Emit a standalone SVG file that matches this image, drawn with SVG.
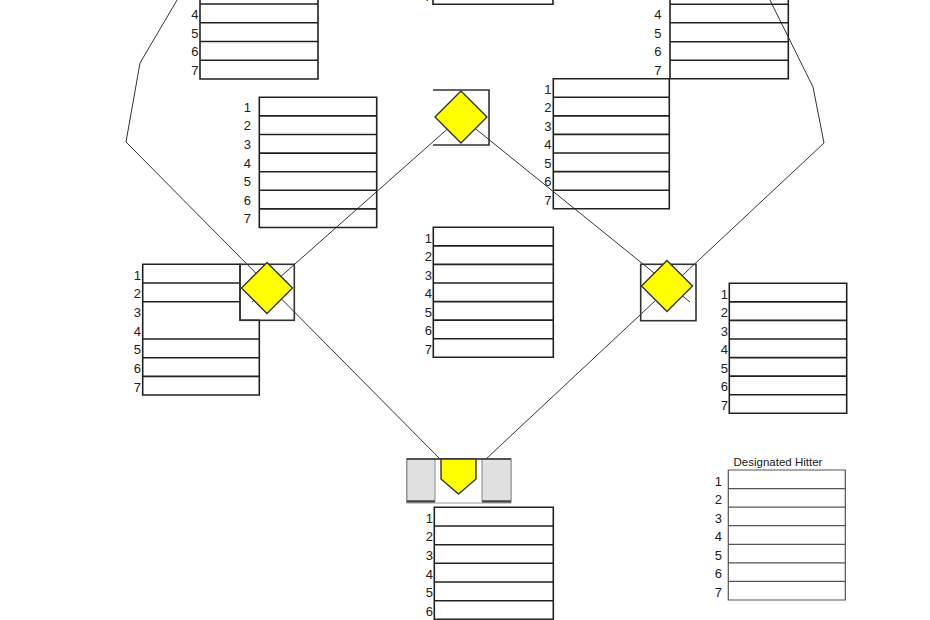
<svg xmlns="http://www.w3.org/2000/svg" width="930" height="620" viewBox="0 0 930 620">
<style>
.box{fill:none;stroke:#222;stroke-width:1.6}
.dh{fill:none;stroke:#555;stroke-width:1.2}
.conn{fill:none;stroke:#333;stroke-width:1}
.base{fill:none;stroke:#333;stroke-width:1.6}
.dia{fill:#ffff00;stroke:#333;stroke-width:1.4}
.lbl{font-family:"Liberation Sans",Arial,sans-serif;font-size:13px;fill:#222;text-anchor:end}
.ttl{font-family:"Liberation Sans",Arial,sans-serif;font-size:11.5px;fill:#222;text-anchor:middle}
</style>
<rect width="930" height="620" fill="#fff"/>
<g id="connectors">
<polyline class="conn" points="183,-10 140,63 126,142 440,459"/>
<polyline class="conn" points="765,-10 813,87 824,143 486,459"/>
<line class="conn" x1="461" y1="117" x2="252" y2="302"/>
<line class="conn" x1="461" y1="117" x2="690" y2="302"/>
</g>
<g id="lineup-lf">
<path class="box" d="M200,-52.25H318V79H200Z M200,-33.5H318 M200,-14.75H318 M200,4H318 M200,22.75H318 M200,41.5H318 M200,60.25H318"/>
<text class="lbl" x="198.5" y="0">3</text>
<text class="lbl" x="198.5" y="18.5">4</text>
<text class="lbl" x="198.5" y="37.5">5</text>
<text class="lbl" x="198.5" y="56">6</text>
<text class="lbl" x="198.5" y="75">7</text>
</g>
<g id="lineup-cf">
<path class="box" d="M433,-126H553V4.3H433Z M433,-14.3H553"/>
<text class="lbl" x="431.5" y="1">7</text>
</g>
<g id="lineup-rf">
<path class="box" d="M670,-51.5H788.3V78.7H670Z M670,-32.9H788.3 M670,-14.3H788.3 M670,4.3H788.3 M670,22.7H788.3 M670,41.7H788.3 M670,60.3H788.3"/>
<text class="lbl" x="661.5" y="0">3</text>
<text class="lbl" x="661.5" y="18.5">4</text>
<text class="lbl" x="661.5" y="37.5">5</text>
<text class="lbl" x="661.5" y="56">6</text>
<text class="lbl" x="661.5" y="75">7</text>
</g>
<g id="lineup-ss">
<path class="box" d="M259.3,97.3H376.7V227.5H259.3Z M259.3,115.9H376.7 M259.3,134.5H376.7 M259.3,153.1H376.7 M259.3,171.7H376.7 M259.3,190.3H376.7 M259.3,208.9H376.7"/>
<text class="lbl" x="251" y="111.7">1</text>
<text class="lbl" x="251" y="130.3">2</text>
<text class="lbl" x="251" y="148.9">3</text>
<text class="lbl" x="251" y="167.5">4</text>
<text class="lbl" x="251" y="186.1">5</text>
<text class="lbl" x="251" y="204.7">6</text>
<text class="lbl" x="251" y="223.3">7</text>
</g>
<g id="lineup-2b">
<path class="box" d="M553.3,78.7H669.3V208.7H553.3Z M553.3,97.3H669.3 M553.3,115.9H669.3 M553.3,134.4H669.3 M553.3,153H669.3 M553.3,171.6H669.3 M553.3,190.2H669.3"/>
<text class="lbl" x="551.5" y="93.5">1</text>
<text class="lbl" x="551.5" y="112">2</text>
<text class="lbl" x="551.5" y="130.6">3</text>
<text class="lbl" x="551.5" y="149.2">4</text>
<text class="lbl" x="551.5" y="167.8">5</text>
<text class="lbl" x="551.5" y="186.4">6</text>
<text class="lbl" x="551.5" y="205">7</text>
</g>
<g id="lineup-p">
<path class="box" d="M433.3,227.3H553.3V357.3H433.3Z M433.3,245.9H553.3 M433.3,264.4H553.3 M433.3,283H553.3 M433.3,301.6H553.3 M433.3,320.1H553.3 M433.3,338.7H553.3"/>
<text class="lbl" x="432" y="242.5">1</text>
<text class="lbl" x="432" y="261">2</text>
<text class="lbl" x="432" y="279.6">3</text>
<text class="lbl" x="432" y="298.2">4</text>
<text class="lbl" x="432" y="316.8">5</text>
<text class="lbl" x="432" y="335.4">6</text>
<text class="lbl" x="432" y="354">7</text>
</g>
<g id="lineup-3b">
<path class="box" d="M142.7,264.3H240V320.3H259.3V395H142.7Z M142.7,283H240 M142.7,301.7H240 M142.7,339H259.3 M142.7,357.7H259.3 M142.7,376.4H259.3"/>
<text class="lbl" x="141" y="279.5">1</text>
<text class="lbl" x="141" y="298.2">2</text>
<text class="lbl" x="141" y="316.9">3</text>
<text class="lbl" x="141" y="335.6">4</text>
<text class="lbl" x="141" y="354.3">5</text>
<text class="lbl" x="141" y="373">6</text>
<text class="lbl" x="141" y="391.7">7</text>
</g>
<g id="lineup-1b">
<path class="box" d="M729.3,283.3H846.7V413.3H729.3Z M729.3,301.9H846.7 M729.3,320.4H846.7 M729.3,339H846.7 M729.3,357.6H846.7 M729.3,376.1H846.7 M729.3,394.7H846.7"/>
<text class="lbl" x="728" y="298.5">1</text>
<text class="lbl" x="728" y="317">2</text>
<text class="lbl" x="728" y="335.6">3</text>
<text class="lbl" x="728" y="354.2">4</text>
<text class="lbl" x="728" y="372.8">5</text>
<text class="lbl" x="728" y="391.4">6</text>
<text class="lbl" x="728" y="410">7</text>
</g>
<g id="lineup-c">
<path class="box" d="M434.3,507.3H553.3V640H434.3Z M434.3,526H553.3 M434.3,544.7H553.3 M434.3,563.3H553.3 M434.3,582H553.3 M434.3,600.7H553.3 M434.3,619.3H553.3"/>
<text class="lbl" x="433" y="522.5">1</text>
<text class="lbl" x="433" y="541.2">2</text>
<text class="lbl" x="433" y="559.9">3</text>
<text class="lbl" x="433" y="578.6">4</text>
<text class="lbl" x="433" y="597.3">5</text>
<text class="lbl" x="433" y="616">6</text>
</g>
<g id="lineup-dh">
<text class="ttl" x="778" y="466">Designated Hitter</text>
<path class="dh" d="M728.3,470H845.3V600H728.3Z M728.3,488.6H845.3 M728.3,507.1H845.3 M728.3,525.7H845.3 M728.3,544.3H845.3 M728.3,562.9H845.3 M728.3,581.4H845.3"/>
<text class="lbl" x="722" y="485.5">1</text>
<text class="lbl" x="722" y="504">2</text>
<text class="lbl" x="722" y="522.6">3</text>
<text class="lbl" x="722" y="541.2">4</text>
<text class="lbl" x="722" y="559.8">5</text>
<text class="lbl" x="722" y="578.4">6</text>
<text class="lbl" x="722" y="597">7</text>
</g>
<g id="second-base">
<path class="base" d="M433,90H489V145H433"/>
<polygon class="dia" points="461,91 487,117 461,143 435,117"/>
</g>
<g id="third-base">
<rect class="base" x="240" y="264.3" width="54.3" height="56"/>
<polygon class="dia" points="267,262.5 292.5,288 267,313.5 241.5,288"/>
</g>
<g id="first-base">
<rect class="base" x="640.7" y="264.3" width="55.3" height="56.4"/>
<polygon class="dia" points="667,260.5 692.5,286 667,311.5 641.5,286"/>
</g>
<g id="home-plate">
<rect x="406.7" y="459" width="104.3" height="44" fill="#fff" stroke="#999" stroke-width="1"/>
<rect x="407" y="459" width="28" height="42" fill="#e0e0e0" stroke="#888" stroke-width="1"/>
<rect x="482" y="459" width="29" height="42" fill="#e0e0e0" stroke="#888" stroke-width="1"/>
<line x1="406.7" y1="459" x2="511" y2="459" stroke="#333" stroke-width="1.6"/>
<line x1="406.7" y1="501.5" x2="435" y2="501.5" stroke="#444" stroke-width="2.2"/>
<line x1="482" y1="501.5" x2="511" y2="501.5" stroke="#444" stroke-width="2.2"/>
<polygon class="dia" points="441,459 476,459 476,479 458.5,494 441,479"/>
</g>
</svg>
